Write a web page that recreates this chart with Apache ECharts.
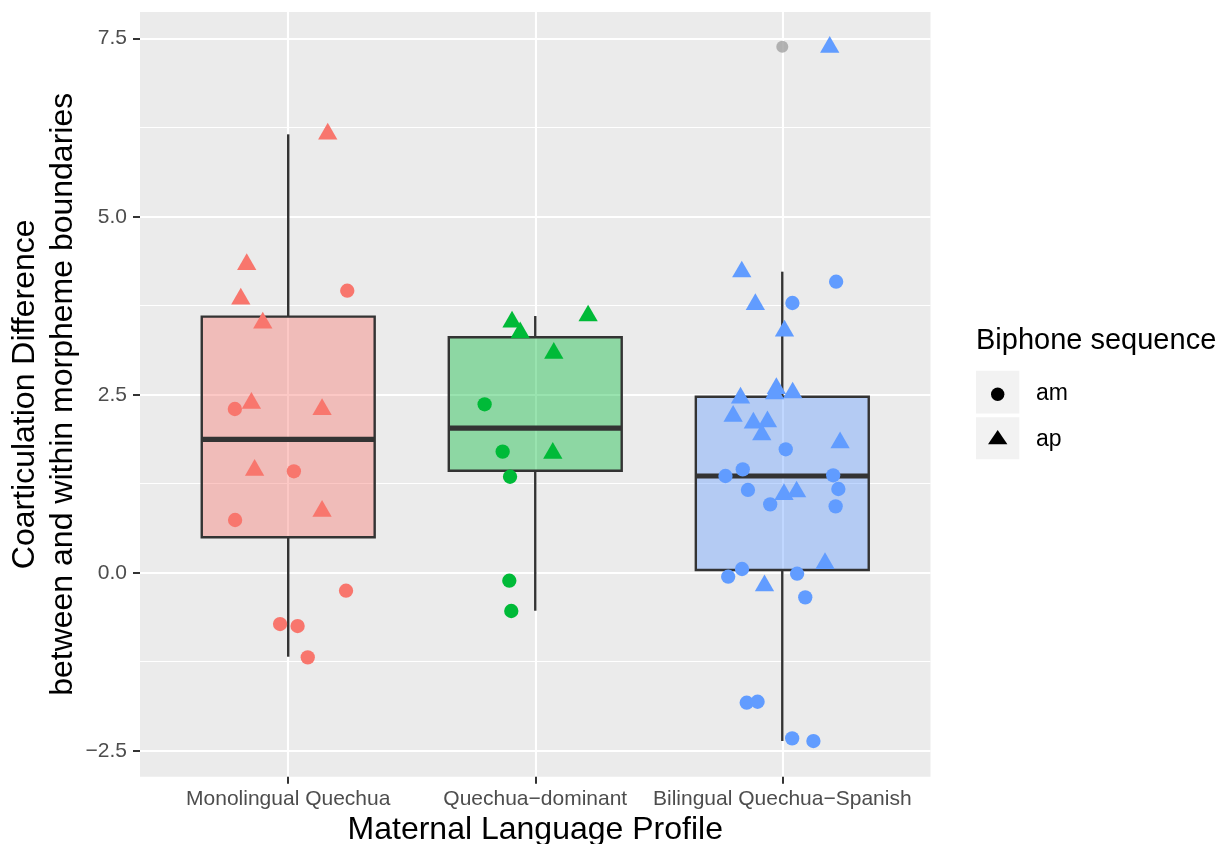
<!DOCTYPE html>
<html>
<head>
<meta charset="utf-8">
<script src="https://cdn.jsdelivr.net/npm/echarts@6/dist/echarts.min.js"></script>
<style>
html,body{margin:0;padding:0;background:#fff;}
#chart{width:1219px;height:844px;}
</style>
</head>
<body>
<div id="chart"></div>
<script>
// ---- data ----
const categories = ['Monolingual Quechua', 'Quechua\u2212dominant', 'Bilingual Quechua\u2212Spanish'];
const categoryPos = [1, 2, 3];
const yTicks = [-2.5, 0, 2.5, 5, 7.5];
const yMinor = [-1.25, 1.25, 3.75, 6.25];

// box statistics per category: lower whisker, Q1, median, Q3, upper whisker
const boxLow  = [-1.18, -0.534, -2.364];
const boxQ1   = [0.497, 1.433, 0.038];
const boxMed  = [1.874, 2.032, 1.358];
const boxQ3   = [3.596, 3.306, 2.472];
const boxHigh = [6.157, 3.605, 4.228];
const outliers = [[3, 7.388]];

// jittered points [x (jittered category position), value]
const monoAm = [[1.239,3.961],[0.784,2.299],[1.023,1.424],[0.785,0.740],[1.234,-0.253],[0.967,-0.721],[1.038,-0.749],[1.079,-1.189]];
const monoAp = [[1.160,6.163],[0.832,4.330],[0.808,3.844],[0.897,3.507],[0.851,2.382],[1.137,2.293],[0.864,1.440],[1.137,0.865]];
const domAm  = [[1.795,2.365],[1.868,1.700],[1.898,1.348],[1.895,-0.112],[1.903,-0.538]];
const domAp  = [[1.906,3.523],[1.939,3.372],[2.214,3.608],[2.075,3.084],[2.071,1.678]];
const bilAm  = [[3.218,4.087],[3.041,3.788],[3.014,1.733],[2.840,1.452],[2.770,1.358],[3.206,1.368],[2.861,1.162],[3.227,1.176],[2.951,0.960],[3.216,0.932],[2.837,0.052],[2.781,-0.056],[3.060,-0.014],[3.093,-0.346],[2.856,-1.826],[2.900,-1.812],[3.040,-2.326],[3.126,-2.364]];
const bilAp  = [[3.192,7.380],[2.836,4.226],[2.891,3.768],[3.009,3.396],[2.976,2.588],[3.042,2.527],[2.969,2.513],[2.831,2.456],[2.801,2.199],[2.883,2.105],[2.940,2.120],[2.917,1.939],[3.234,1.825],[3.007,1.100],[3.058,1.136],[3.173,0.130],[2.928,-0.181]];

// ---- styles ----
const groupColors = ['#F8766D', '#00BA38', '#619CFF'];
const boxFills = ['rgba(248,118,109,0.4)', 'rgba(0,186,56,0.4)', 'rgba(97,156,255,0.4)'];
const FONT = '"Liberation Sans", Arial, Helvetica, sans-serif';
const circleSize = 14.3;
const triSize = [19.3, 16.7];
const triOffset = [0, -2.8];

const boxData = categoryPos.map((p, i) => [p, boxLow[i], boxQ1[i], boxMed[i], boxQ3[i], boxHigh[i]]);

function renderBox(params, api) {
  const x = api.value(0);
  const half = 0.35;
  const lo = api.coord([x, api.value(1)]);
  const q1 = api.coord([x, api.value(2)]);
  const md = api.coord([x, api.value(3)]);
  const q3 = api.coord([x, api.value(4)]);
  const hi = api.coord([x, api.value(5)]);
  const left = api.coord([x - half, api.value(3)])[0];
  const right = api.coord([x + half, api.value(3)])[0];
  const i = params.dataIndex;
  const line = {stroke: '#333333', lineWidth: 2.4};
  return {
    type: 'group',
    children: [
      {type: 'line', shape: {x1: q3[0], y1: q3[1], x2: hi[0], y2: hi[1]}, style: line},
      {type: 'line', shape: {x1: q1[0], y1: q1[1], x2: lo[0], y2: lo[1]}, style: line},
      {type: 'rect', shape: {x: left, y: q3[1], width: right - left, height: q1[1] - q3[1]},
        style: {fill: boxFills[i], stroke: '#333333', lineWidth: 2.4}},
      {type: 'line', shape: {x1: left, y1: md[1], x2: right, y2: md[1]}, style: {stroke: '#333333', lineWidth: 5.2}}
    ]
  };
}

function pointSeries(data, color, shape) {
  const tri = shape === 'triangle';
  return {
    type: 'scatter',
    data: data,
    symbol: tri ? 'triangle' : 'circle',
    symbolSize: tri ? triSize : circleSize,
    symbolOffset: tri ? triOffset : [0, 0],
    itemStyle: {color: color, opacity: 1},
    z: 5,
    silent: true,
    emphasis: {disabled: true}
  };
}

const chart = echarts.init(document.getElementById('chart'), null, {renderer: 'canvas'});

const option = {
  backgroundColor: '#FFFFFF',
  animation: false,
  textStyle: {fontFamily: FONT},
  grid: {left: 140, top: 12, width: 790.5, height: 764.7, show: true, backgroundColor: '#EBEBEB', borderWidth: 0,
    containLabel: false, outerBoundsMode: 'none'},
  xAxis: {
    type: 'value', min: 0.4, max: 3.6,
    axisLine: {show: false, onZero: false},
    axisTick: {show: true, customValues: categoryPos, length: 7, lineStyle: {color: '#333333', width: 2}},
    axisLabel: {customValues: categoryPos, margin: 12, color: '#4D4D4D', fontSize: 21, fontFamily: FONT,
      formatter: v => categories[Math.round(v) - 1]},
    splitLine: {show: true, lineStyle: {color: '#FFFFFF', width: 2.1}},
    name: 'Maternal Language Profile', nameLocation: 'middle', nameGap: 37,
    nameTextStyle: {fontSize: 32, color: '#000000', fontFamily: FONT}
  },
  yAxis: {
    type: 'value', min: -2.865, max: 7.875,
    axisLine: {show: false, onZero: false},
    axisTick: {show: true, customValues: yTicks, length: 7, lineStyle: {color: '#333333', width: 2}},
    axisLabel: {customValues: yTicks, margin: 13, color: '#4D4D4D', fontSize: 21, fontFamily: FONT,
      formatter: v => (v < 0 ? '\u2212' : '') + Math.abs(v).toFixed(1)},
    splitLine: {show: true, lineStyle: {color: '#FFFFFF', width: 2.1}}
  },
  series: [
    {
      type: 'scatter', data: [], silent: true,
      markLine: {
        silent: true, symbol: ['none', 'none'], z: 1, animation: false,
        label: {show: false},
        lineStyle: {color: '#FFFFFF', width: 1.1, type: 'solid'},
        emphasis: {disabled: true},
        data: yMinor.map(v => ({yAxis: v}))
      }
    },
    {
      type: 'custom', data: boxData, renderItem: renderBox, z: 2, silent: true,
      encode: {x: 0, y: [1, 2, 3, 4, 5]}
    },
    {
      type: 'scatter', data: outliers, symbol: 'circle', symbolSize: 12,
      itemStyle: {color: '#A1A1A1'}, z: 3, silent: true
    },
    pointSeries(monoAm, groupColors[0], 'circle'),
    pointSeries(monoAp, groupColors[0], 'triangle'),
    pointSeries(domAm, groupColors[1], 'circle'),
    pointSeries(domAp, groupColors[1], 'triangle'),
    pointSeries(bilAm, groupColors[2], 'circle'),
    pointSeries(bilAp, groupColors[2], 'triangle')
  ],
  graphic: [
    {type: 'text', x: 44, y: 394.3, rotation: Math.PI / 2,
      style: {text: 'Coarticulation Difference\nbetween and within morpheme boundaries', fontSize: 32, lineHeight: 38,
        fontFamily: FONT, fill: '#000000', align: 'center', verticalAlign: 'middle'}},
    {type: 'text', x: 976, y: 341,
      style: {text: 'Biphone sequence', fontSize: 29, fontFamily: FONT, fill: '#000000', align: 'left', verticalAlign: 'middle'}},
    {type: 'rect', shape: {x: 976, y: 370.7, width: 43.3, height: 42.7}, style: {fill: '#F2F2F2'}},
    {type: 'rect', shape: {x: 976, y: 417.3, width: 43.3, height: 42}, style: {fill: '#F2F2F2'}},
    {type: 'circle', shape: {cx: 997.7, cy: 394.2, r: 6.7}, style: {fill: '#000000'}},
    {type: 'polygon', shape: {points: [[997.7, 430], [988, 444.3], [1007.4, 444.3]]}, style: {fill: '#000000'}},
    {type: 'text', x: 1036, y: 393.5,
      style: {text: 'am', fontSize: 23, fontFamily: FONT, fill: '#000000', align: 'left', verticalAlign: 'middle'}},
    {type: 'text', x: 1036, y: 439.8,
      style: {text: 'ap', fontSize: 23, fontFamily: FONT, fill: '#000000', align: 'left', verticalAlign: 'middle'}}
  ]
};
chart.setOption(option);
</script>
</body>
</html>
